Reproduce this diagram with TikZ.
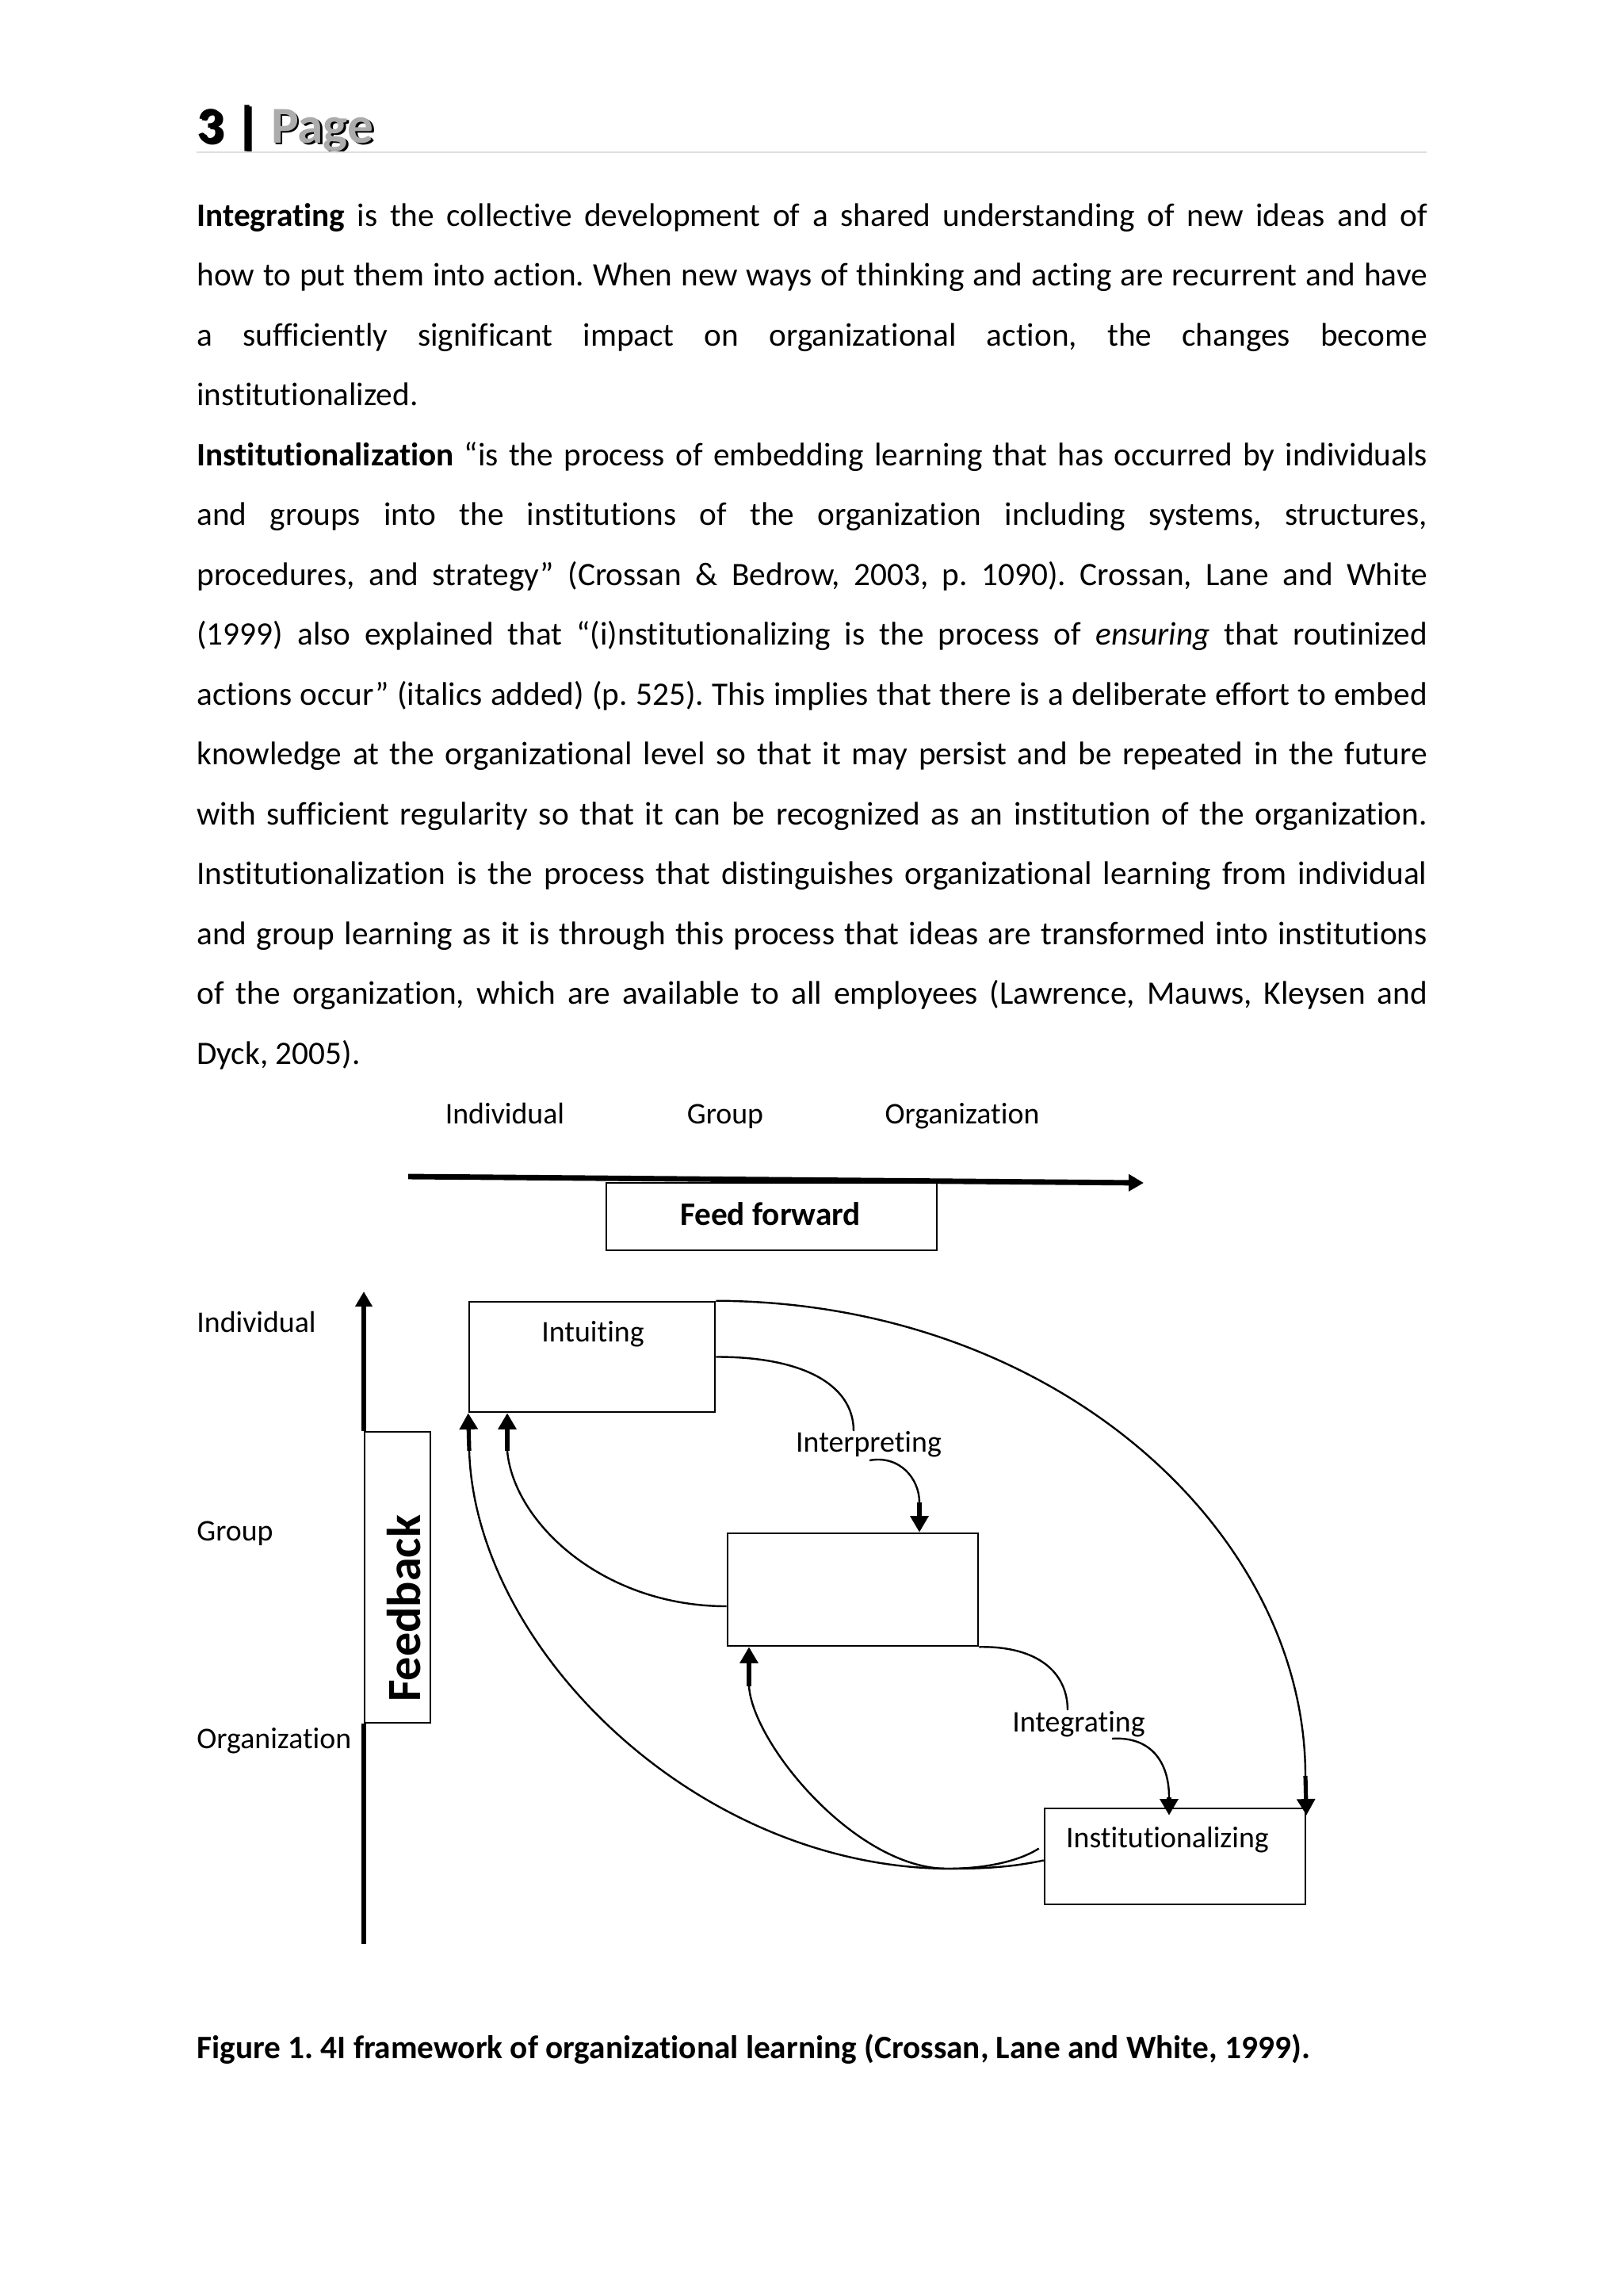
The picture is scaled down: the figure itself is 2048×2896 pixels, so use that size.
\documentclass[tikz,border=0pt]{standalone}
\usepackage{fontspec}
\usepackage{graphicx}
\setmainfont{Carlito}[Ligatures=NoCommon, RawFeature={-liga;-clig}]
\usetikzlibrary{arrows.meta,fit,calc}
\newcommand{\jl}[1]{\makebox[451.3pt][s]{#1}}
\frenchspacing
\begin{document}
\frenchspacing
\begin{tikzpicture}[x=0.29066pt,y=-0.29066pt,
  box/.style={draw, line width=0.75pt, inner sep=0pt},
  lbl/.style={inner sep=0pt, font=\fontsize{11}{13}\selectfont},
  body/.style={inner sep=0pt, anchor=base west, font=\fontsize{12}{14}\selectfont\frenchspacing},
  curve/.style={line width=0.7pt},
  stemarrow/.style={line width=1.5pt, -{Triangle[length=6pt,width=6.5pt]}},
  thickarrow/.style={line width=2pt, -{Triangle[length=5.5pt,width=6pt]}}]
\useasboundingbox (0,0) rectangle (2048,2896);
\fill[white] (0,0) rectangle (2048,2896);

% header
\node[anchor=base west, inner sep=0pt, font=\fontsize{19}{23}\selectfont\bfseries, text=black] (hdrS) at (250.5,182.5) {3 | Page};
\node[anchor=base west, inner sep=0pt, font=\fontsize{19}{23}\selectfont\bfseries] (hdr) at (247.7,180) {3 | \textcolor{gray!65}{Page}};
\coordinate (hrL) at (247.7,192);
\coordinate (hrR) at (1800.3,192);
\draw[gray!25, line width=0.6pt] (hrL) -- (hrR);

% body text
\node[body] (l1) at (247.7,285) {\jl{\textbf{Integrating} is the collective development of a shared understanding of new ideas and of}};
\node[body] (l2) at (247.7,360.5) {\jl{how to put them into action. When new ways of thinking and acting are recurrent and have}};
\node[body] (l3) at (247.7,436) {\jl{a sufficiently significant impact on organizational action, the changes become}};
\node[body] (l4) at (247.7,511.5) {institutionalized.};
\node[body] (l5) at (247.7,587) {\jl{\textbf{Institutionalization} “is the process of embedding learning that has occurred by individuals}};
\node[body] (l6) at (247.7,662.5) {\jl{and groups into the institutions of the organization including systems, structures,}};
\node[body] (l7) at (247.7,738) {\jl{procedures, and strategy” (Crossan \& Bedrow, 2003, p. 1090). Crossan, Lane and White}};
\node[body] (l8) at (247.7,813.5) {\jl{(1999) also explained that “(i)nstitutionalizing is the process of \textit{ensuring} that routinized}};
\node[body] (l9) at (247.7,889) {\jl{actions occur” (italics added) (p. 525). This implies that there is a deliberate effort to embed}};
\node[body] (l10) at (247.7,964.5) {\jl{knowledge at the organizational level so that it may persist and be repeated in the future}};
\node[body] (l11) at (247.7,1040) {\jl{with sufficient regularity so that it can be recognized as an institution of the organization.}};
\node[body] (l12) at (247.7,1115.5) {\jl{Institutionalization is the process that distinguishes organizational learning from individual}};
\node[body] (l13) at (247.7,1191) {\jl{and group learning as it is through this process that ideas are transformed into institutions}};
\node[body] (l14) at (247.7,1266.5) {\jl{of the organization, which are available to all employees (Lawrence, Mauws, Kleysen and}};
\node[body] (l15) at (247.7,1342) {Dyck, 2005).};

% level labels
\node[lbl, anchor=base] (hInd) at (637,1417) {Individual};
\node[lbl, anchor=base] (hGrp) at (915,1417) {Group};
\node[lbl, anchor=base] (hOrg) at (1214,1417) {Organization};
\node[lbl, anchor=base west] (vInd) at (247.7,1680) {Individual};
\node[lbl, anchor=base west] (vGrp) at (247.7,1943) {Group};
\node[lbl, anchor=base west] (vOrg) at (247.7,2205) {Organization};

% feed forward
\coordinate (ffL) at (515,1484);
\coordinate (ffR) at (1443,1492);
\draw[thickarrow] (ffL) -- (ffR);
\node[box, fit={(765,1492) (1182,1577)}] (ffbox) {};
\node[inner sep=0pt, anchor=base, font=\fontsize{12}{14}\selectfont\bfseries] (tFF) at (972,1545) {Feed forward};

% feedback
\node[box, fit={(460,1806) (543,2173)}] (fbbox) {};
\coordinate (fbBot) at (459,2452);
\coordinate (fbTop) at (459,1629);
\draw[line width=2pt] (fbBot) -- (fbBot |- fbbox.south);
\draw[thickarrow] (fbTop |- fbbox.north) -- (fbTop);
\node[inner sep=0pt, anchor=base, rotate=90, font=\fontsize{17.5}{20}\selectfont\bfseries] (tFB) at (530,2029) {Feedback};

% process boxes
\node[box, fit={(592,1642) (902,1781)}] (intu) {};
\node[box, fit={(918,1934) (1234,2076)}] (grp) {};
\node[box, fit={(1318,2281) (1647,2402)}] (inst) {};
\node[lbl, anchor=base] (tIntu) at (748,1692) {Intuiting};
\node[lbl, anchor=base] (tInterp) at (1096,1831) {Interpreting};
\node[lbl, anchor=base] (tInteg) at (1361,2184) {Integrating};
\node[lbl, anchor=base] (tInst) at (1473,2330) {Institutionalizing};

% feed-forward curves
\coordinate (interpTop) at (1077,1805);
\draw[curve] (intu.east) .. controls (1010,1711) and (1077,1745) .. (interpTop);
\coordinate (iaS) at (1097,1842);
\coordinate (iaM) at (1160,1895);
\draw[curve] (iaS) .. controls (1135,1835) and (1160,1865) .. (iaM);
\draw[stemarrow] (iaM) -- (iaM |- grp.north);

\coordinate (integTop) at (1347,2157);
\draw[curve] (grp.south east) .. controls (1310,2076) and (1347,2110) .. (integTop);
\coordinate (igS) at (1403,2193);
\coordinate (igM) at (1475,2267);
\draw[curve] (igS) .. controls (1450,2190) and (1475,2220) .. (igM);
\draw[stemarrow] (igM) -- ($(igM |- inst.north)+(0,10)$);

\coordinate (bigM) at (1647,2240);
\draw[curve] (intu.north east) .. controls (1330,1642) and (1647,1930) .. (bigM);
\draw[stemarrow] (bigM) -- ($(inst.north east)+(0,10)$);

% feedback curves
\coordinate (aM) at (640,1830);
\draw[curve] ($(grp.west)+(0,21)$) .. controls (760,2026) and (648,1920) .. (aM);
\draw[stemarrow] (aM) -- (aM |- intu.south);

\coordinate (bM) at (592,1830);
\draw[curve] ($(inst.west)+(0,5)$) .. controls (1290,2352) and (1260,2357) .. (1200,2357)
  .. controls (880,2357) and (600,2080) .. (bM);
\draw[stemarrow] (bM) -- (intu.south west);

\coordinate (cM) at (945,2127);
\draw[curve] ($(inst.west)+(-6,-10)$) .. controls (1290,2345) and (1250,2357) .. (1195,2357)
  .. controls (1080,2357) and (950,2200) .. (cM);
\draw[stemarrow] (cM) -- (cM |- grp.south);

% caption
\node[body, font=\fontsize{12}{14}\selectfont\bfseries] (cap) at (247.7,2596) {Figure 1. 4I framework of organizational learning (Crossan, Lane and White, 1999).};
\end{tikzpicture}
\end{document}
